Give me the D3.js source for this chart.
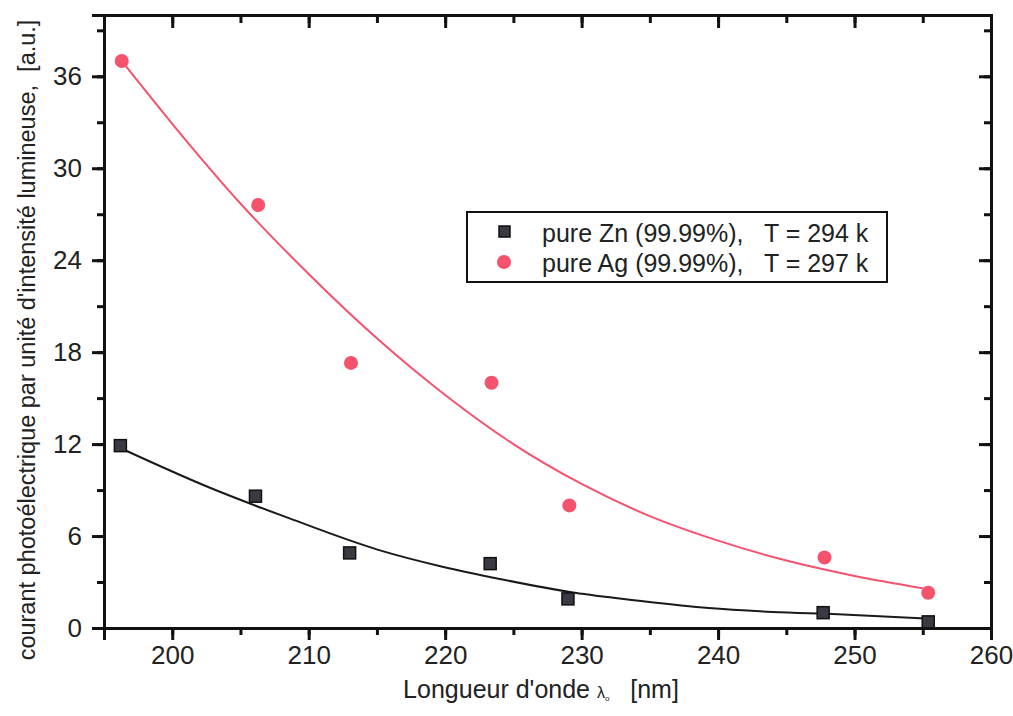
<!DOCTYPE html>
<html>
<head>
<meta charset="utf-8">
<script src="https://cdn.jsdelivr.net/npm/d3@7"></script>
<style>
  body { margin: 0; background: #fff; }
  svg { display: block; font-family: "Liberation Sans", Arial, sans-serif; }
</style>
</head>
<body>
<svg width="1013" height="716"></svg>
<script>
// measured points
const znX = [196.2, 206.1, 213.0, 223.3, 229.0, 247.7, 255.4];
const znY = [11.9, 8.6, 4.9, 4.2, 1.9, 1.0, 0.4];
const agX = [196.3, 206.3, 213.1, 223.4, 229.1, 247.8, 255.4];
const agY = [37.0, 27.6, 17.3, 16.0, 8.0, 4.6, 2.3];

// fitted curves
const znFitX = [196.3, 202.9, 208.6, 215.1, 219.8, 224.0, 229.5, 234.0, 239.3, 244.0, 248.8, 255.5];
const znFitY = [11.7, 9.1, 7.15, 5.1, 4.0, 3.2, 2.3, 1.8, 1.3, 1.05, 0.9, 0.6];
const agFitX = [196.3, 200, 205, 210, 215, 220, 225, 230, 235, 240, 245, 250, 255];
const agFitY = [37.0, 32.9, 27.7, 23.1, 18.9, 15.2, 12.0, 9.4, 7.3, 5.7, 4.4, 3.4, 2.6];

const xTicks = [200, 210, 220, 230, 240, 250, 260];
const yTicks = [0, 6, 12, 18, 24, 30, 36];

const legendLabels = ["pure Zn (99.99%),   T = 294 k", "pure Ag (99.99%),   T = 297 k"];

const svg = d3.select('svg');
const plotL = 104, plotR = 991, plotT = 15, plotB = 628;

const x = d3.scaleLinear().domain([195, 260]).range([plotL, plotR]);
const y = d3.scaleLinear().domain([0, 40]).range([plotB, plotT]);

const axisColor = '#111';
const red = '#f4526d';

const xMinor = d3.range(195, 261, 5);
const yMinor = d3.range(0, 41, 3);

// bottom axis (ticks outward)
const gx = svg.append('g').attr('transform', `translate(0,${plotB})`)
    .call(d3.axisBottom(x).tickValues(xMinor).tickSize(7).tickFormat(''));
gx.call(g => g.append('g').call(d3.axisBottom(x).tickValues(xTicks).tickSize(12).tickPadding(6)));

// left axis (ticks outward)
const gy = svg.append('g').attr('transform', `translate(${plotL},0)`)
    .call(d3.axisLeft(y).tickValues(yMinor).tickSize(7).tickFormat(''));
gy.call(g => g.append('g').call(d3.axisLeft(y).tickValues(yTicks).tickSize(12).tickPadding(10)));

// top axis (ticks inward)
const gt = svg.append('g').attr('transform', `translate(0,${plotT})`)
    .call(d3.axisBottom(x).tickValues(xMinor).tickSize(8).tickFormat(''));
gt.call(g => g.append('g').call(d3.axisBottom(x).tickValues(xTicks).tickSize(13).tickFormat('')));

// right axis (ticks inward)
const gr = svg.append('g').attr('transform', `translate(${plotR},0)`)
    .call(d3.axisLeft(y).tickValues(yMinor).tickSize(7).tickFormat(''));
gr.call(g => g.append('g').call(d3.axisLeft(y).tickValues(yTicks).tickSize(12).tickFormat('')));

svg.selectAll('.domain').attr('stroke', axisColor).attr('stroke-width', 3);
svg.selectAll('.tick line').attr('stroke', axisColor).attr('stroke-width', 3);
svg.selectAll('.tick text')
    .attr('fill', '#222')
    .style('font-size', '26px')
    .style('font-family', '"Liberation Sans", Arial, sans-serif');

// fits
const line = d3.line().x(d => x(d[0])).y(d => y(d[1])).curve(d3.curveMonotoneX);

svg.append('path')
    .datum(d3.zip(agFitX, agFitY))
    .attr('d', line)
    .attr('fill', 'none')
    .attr('stroke', red)
    .attr('stroke-width', 2);

svg.append('path')
    .datum(d3.zip(znFitX, znFitY))
    .attr('d', line)
    .attr('fill', 'none')
    .attr('stroke', '#1a1a1a')
    .attr('stroke-width', 2);

// markers
svg.append('g').selectAll('rect')
    .data(d3.zip(znX, znY))
    .join('rect')
    .attr('x', d => x(d[0]) - 6)
    .attr('y', d => y(d[1]) - 6)
    .attr('width', 12)
    .attr('height', 12)
    .attr('fill', '#3a3a44')
    .attr('stroke', '#111')
    .attr('stroke-width', 1.5);

svg.append('g').selectAll('circle')
    .data(d3.zip(agX, agY))
    .join('circle')
    .attr('cx', d => x(d[0]))
    .attr('cy', d => y(d[1]))
    .attr('r', 7)
    .attr('fill', red);

// legend
const legend = svg.append('g').attr('transform', 'translate(467,212)');
legend.append('rect')
    .attr('width', 420)
    .attr('height', 70)
    .attr('fill', '#fff')
    .attr('stroke', '#111')
    .attr('stroke-width', 2);

legend.append('rect')
    .attr('x', 32).attr('y', 14).attr('width', 11).attr('height', 11)
    .attr('fill', '#3a3a44').attr('stroke', '#111').attr('stroke-width', 1.5);
legend.append('circle')
    .attr('cx', 37).attr('cy', 50).attr('r', 7).attr('fill', red);

legend.selectAll('text.lab')
    .data(legendLabels)
    .join('text')
    .attr('class', 'lab')
    .attr('x', 75)
    .attr('y', (d, i) => 30 + i * 30)
    .attr('fill', '#222')
    .style('font-size', '25px')
    .attr('xml:space', 'preserve')
    .text(d => d);

// axis titles
const xTitle = svg.append('text')
    .attr('x', 541)
    .attr('y', 698)
    .attr('text-anchor', 'middle')
    .attr('fill', '#222')
    .style('font-size', '25px')
    .attr('xml:space', 'preserve');
xTitle.append('tspan').text('Longueur d\'onde ');
xTitle.append('tspan').style('font-size', '16px').text('λ');
xTitle.append('tspan').style('font-size', '8px').attr('dy', 3).text('o');
xTitle.append('tspan').attr('dy', -3).text('   [nm]');

svg.append('text')
    .attr('transform', 'translate(35,340) rotate(-90)')
    .attr('text-anchor', 'middle')
    .attr('fill', '#222')
    .style('font-size', '23.5px')
    .attr('xml:space', 'preserve')
    .text('courant photoélectrique par unité d\'intensité lumineuse,  [a.u.]');
</script>
</body>
</html>
